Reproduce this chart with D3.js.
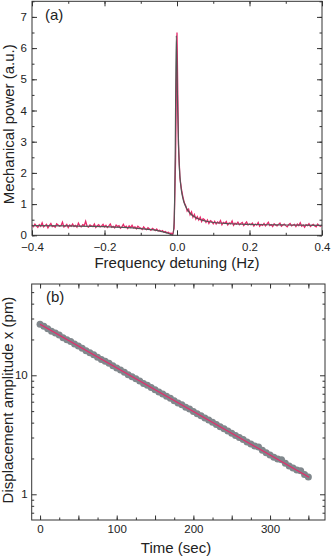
<!DOCTYPE html>
<html><head><meta charset="utf-8">
<script src="https://cdn.jsdelivr.net/npm/d3@7/dist/d3.min.js"></script>
<style>body{margin:0;background:#fff}svg{display:block}text{font-family:"Liberation Sans",Arial,sans-serif}</style>
</head><body><svg id="c" width="332" height="557"></svg>
<script>
// ---------- Panel (a) data ----------
const freqStart = -0.4, freqStep = 0.004;
const measuredPower = [
0.33,0.28,0.36,0.30,0.25,0.34,0.29,0.40,0.27,0.31,
0.35,0.24,0.32,0.38,0.28,0.30,0.26,0.37,0.33,0.29,
0.31,0.42,0.27,0.30,0.35,0.25,0.33,0.29,0.36,0.28,
0.32,0.26,0.39,0.30,0.27,0.34,0.31,0.45,0.29,0.26,
0.33,0.30,0.28,0.36,0.25,0.31,0.34,0.27,0.30,0.35,
0.27,0.32,0.25,0.30,0.36,0.26,0.29,0.24,0.33,0.28,
0.31,0.23,0.27,0.35,0.26,0.29,0.22,0.30,0.25,0.32,
0.24,0.27,0.21,0.29,0.25,
0.23,0.19,0.27,0.21,0.18,0.24,0.20,0.16,0.22,0.19,0.15,0.20,0.14,
0.16,0.12,0.15,0.10,0.12,0.08,0.10,0.06,0.07,
0.03,0.22,2.4,6.5,2.9,1.85,1.5,1.25,1.05,
0.95,0.78,0.84,0.66,0.75,0.58,0.67,0.52,0.60,0.49,0.58,0.44,0.53,0.50,0.41,0.49,0.38,0.47,0.44,0.37,
0.45,0.36,0.43,0.39,0.47,0.34,0.41,0.38,0.44,0.33,0.40,0.37,0.46,0.32,0.39,0.36,0.42,0.34,0.38,0.41,0.31,0.37,0.43,0.33,0.36,
0.34,0.39,0.30,0.36,0.33,0.41,0.29,0.35,0.32,0.38,
0.30,0.36,0.42,0.31,0.34,0.28,0.37,0.33,0.30,0.35,
0.39,0.29,0.33,0.36,0.31,0.27,0.34,0.38,0.30,0.33,
0.35,0.28,0.36,0.31,0.40,0.29,0.33,0.26,0.34,0.31,
0.37,0.28,0.32,0.35,0.30,0.27,0.36,0.31,0.29,0.33];
const fitFreq = [-0.4,-0.3,-0.2,-0.15,-0.1,-0.07,-0.05,-0.035,-0.025,-0.018,-0.012,-0.008,-0.005,-0.002,0.002,0.005,0.008,0.012,0.016,0.02,0.025,0.03,0.04,0.05,0.06,0.08,0.1,0.15,0.2,0.3,0.4];
const fitPower = [0.31,0.30,0.28,0.255,0.215,0.18,0.14,0.10,0.065,0.03,0.01,0.4,2.5,6.4,4.0,2.6,1.9,1.45,1.2,1.03,0.9,0.8,0.66,0.58,0.52,0.45,0.41,0.37,0.35,0.33,0.32];
const xTicksA = [-0.4,-0.2,0.0,0.2,0.4];
const yTicksA = [0,1,2,3,4,5,6,7];

// ---------- Panel (b) data ----------
const timeStep = 5;
const amplitude = [26.8,25.8,24.6,23.5,22.7,21.8,20.7,19.9,19.2,18.3,
17.6,16.9,16.1,15.5,14.9,14.2,13.6,13.1,12.6,12.0,
11.5,11.1,10.6,10.1,9.7,9.35,8.95,8.55,8.25,7.9,
7.55,7.25,6.95,6.65,6.4,6.1,5.85,5.65,5.4,5.2,
4.97,4.75,4.57,4.38,4.2,4.03,3.85,3.7,3.55,3.4,
3.25,3.12,3.0,2.88,2.75,2.65,2.55,2.5,2.35,2.23,
2.14,2.05,1.98,1.95,1.82,1.73,1.66,1.6,1.58,1.47,1.40];
const fitTime = [0, 351];
const fitAmp = [26.8, 1.39];
const xTicksB = [0,100,200,300];
const yTicksB = [1,10];

const svg = d3.select("#c");
const axCol = "#333";
const red = "#e8296b";
const titleSize = "15px";

function frame(g, x0, x1, y0, y1){
  g.append("rect").attr("x",x0).attr("y",y0).attr("width",x1-x0).attr("height",y1-y0)
   .attr("fill","none").attr("stroke",axCol).attr("stroke-width",1);
}
function styleAxis(sel){
  sel.select(".domain").remove();
  sel.selectAll("line").attr("stroke",axCol).attr("stroke-width",1);
  sel.selectAll("text").attr("fill","#222").style("font-size","11.5px");
}

// ===== Panel (a) =====
{
  const L=32, R=322, T=1.3, B=235.3;
  const x = d3.scaleLinear().domain([-0.4,0.4]).range([L,R]);
  const y = d3.scaleLinear().domain([0,7.5]).range([B,T]);
  const g = svg.append("g");
  const minorX = d3.range(-0.4,0.4001,0.1).map(v=>+v.toFixed(2));
  const minorY = d3.range(0,7.51,0.5);
  g.append("g").attr("transform",`translate(0,${B})`)
   .call(d3.axisBottom(x).tickValues(minorX).tickSize(-2.5).tickFormat("")).call(styleAxis);
  g.append("g").attr("transform",`translate(0,${B})`)
   .call(d3.axisBottom(x).tickValues(xTicksA).tickSize(-5).tickPadding(8).tickFormat(d3.format(".1f"))).call(styleAxis);
  g.append("g").attr("transform",`translate(0,${T})`)
   .call(d3.axisTop(x).tickValues(minorX).tickSize(-2.5).tickFormat("")).call(styleAxis);
  g.append("g").attr("transform",`translate(0,${T})`)
   .call(d3.axisTop(x).tickValues(xTicksA).tickSize(-5).tickFormat("")).call(styleAxis);
  g.append("g").attr("transform",`translate(${L},0)`)
   .call(d3.axisLeft(y).tickValues(minorY).tickSize(-2.5).tickFormat("")).call(styleAxis);
  g.append("g").attr("transform",`translate(${L},0)`)
   .call(d3.axisLeft(y).tickValues(yTicksA).tickSize(-5).tickPadding(5).tickFormat(d3.format("d"))).call(styleAxis);
  g.append("g").attr("transform",`translate(${R},0)`)
   .call(d3.axisRight(y).tickValues(minorY).tickSize(-2.5).tickFormat("")).call(styleAxis);
  g.append("g").attr("transform",`translate(${R},0)`)
   .call(d3.axisRight(y).tickValues(yTicksA).tickSize(-5).tickFormat("")).call(styleAxis);

  const data = measuredPower.map((p,i)=>[freqStart+i*freqStep,p]);
  g.append("path").datum(data).attr("fill","none").attr("stroke",red).attr("stroke-width",1.3)
   .attr("d",d3.line().x(d=>x(d[0])).y(d=>y(d[1])));
  const fit = fitFreq.map((f,i)=>[f,fitPower[i]]);
  g.append("path").datum(fit).attr("fill","none").attr("stroke","#555").attr("stroke-width",1.2)
   .attr("d",d3.line().x(d=>x(d[0])).y(d=>y(d[1])).curve(d3.curveMonotoneX));
  frame(g,L,R,T,B);
  g.append("text").attr("x",45).attr("y",20).style("font-size","15px").attr("fill","#222").text("(a)");
  g.append("text").attr("x",(L+R)/2).attr("y",268).attr("text-anchor","middle").style("font-size",titleSize).attr("fill","#222").text("Frequency detuning (Hz)");
  g.append("text").attr("transform",`translate(14,${(T+B)/2 + 6}) rotate(-90)`).attr("text-anchor","middle").style("font-size",titleSize).attr("fill","#222").text("Mechanical power (a.u.)");
}

// ===== Panel (b) =====
{
  const L=31.7, R=325, T=284, B=520;
  const x = d3.scaleLinear().domain([-10.9,371.7]).range([L,R]);
  const y = d3.scaleLog().domain([0.608,58.5]).range([B,T]);
  const g = svg.append("g");
  const minorX = d3.range(0,351,25);
  const midX = d3.range(0,351,50);
  const minorY = [0.7,0.8,0.9,2,3,4,5,6,7,8,9,20,30,40,50];
  g.append("g").attr("transform",`translate(0,${B})`)
   .call(d3.axisBottom(x).tickValues(minorX).tickSize(-2.5).tickFormat("")).call(styleAxis);
  g.append("g").attr("transform",`translate(0,${B})`)
   .call(d3.axisBottom(x).tickValues(midX).tickSize(-4.5).tickFormat("")).call(styleAxis);
  g.append("g").attr("transform",`translate(0,${B})`)
   .call(d3.axisBottom(x).tickValues(xTicksB).tickSize(0).tickPadding(5).tickFormat(d3.format("d"))).call(styleAxis);
  g.append("g").attr("transform",`translate(0,${T})`)
   .call(d3.axisTop(x).tickValues(minorX).tickSize(-2.5).tickFormat("")).call(styleAxis);
  g.append("g").attr("transform",`translate(0,${T})`)
   .call(d3.axisTop(x).tickValues(midX).tickSize(-4.5).tickFormat("")).call(styleAxis);
  g.append("g").attr("transform",`translate(${L},0)`)
   .call(d3.axisLeft(y).tickValues(minorY).tickSize(-2.5).tickFormat("")).call(styleAxis);
  g.append("g").attr("transform",`translate(${L},0)`)
   .call(d3.axisLeft(y).tickValues(yTicksB).tickSize(-5).tickPadding(4).tickFormat(d3.format("d"))).call(styleAxis);
  g.append("g").attr("transform",`translate(${R},0)`)
   .call(d3.axisRight(y).tickValues(minorY).tickSize(-2.5).tickFormat("")).call(styleAxis);
  g.append("g").attr("transform",`translate(${R},0)`)
   .call(d3.axisRight(y).tickValues(yTicksB).tickSize(-5).tickFormat("")).call(styleAxis);

  const data = amplitude.map((a,i)=>[i*timeStep,a]);
  g.append("g").selectAll("circle").data(data).join("circle")
   .attr("cx",d=>x(d[0])).attr("cy",d=>y(d[1])).attr("r",3.5).attr("fill","#80878c");
  g.append("path").datum(fitTime.map((t,i)=>[t,fitAmp[i]])).attr("fill","none").attr("stroke",red).attr("stroke-width",1.1)
   .attr("d",d3.line().x(d=>x(d[0])).y(d=>y(d[1])));
  frame(g,L,R,T,B);
  g.append("text").attr("x",46).attr("y",302).style("font-size","15px").attr("fill","#222").text("(b)");
  g.append("text").attr("x",176).attr("y",553).attr("text-anchor","middle").style("font-size",titleSize).attr("fill","#222").text("Time (sec)");
  g.append("text").attr("transform",`translate(13,400) rotate(-90)`).attr("text-anchor","middle").style("font-size",titleSize).attr("fill","#222").text("Displacement amplitude x (pm)");
}
</script></body></html>
